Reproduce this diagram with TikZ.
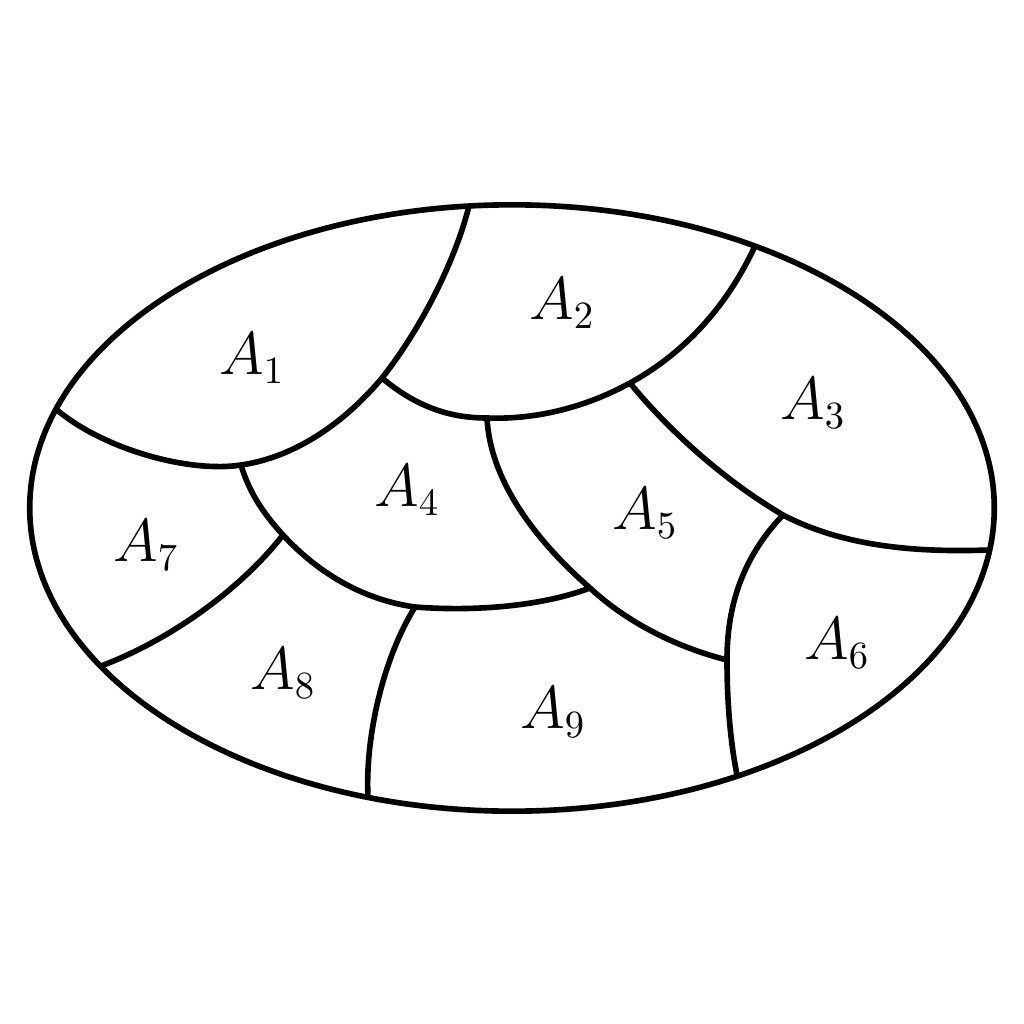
\documentclass[tikz,border=0pt]{standalone}
\usepackage{tikz}

\tikzset{
  border/.style={line width=1.6pt},
  region/.style={font=\fontsize{16}{19}\selectfont, anchor=center}
}

\begin{document}
\begin{tikzpicture}[x=0.01cm,y=-0.01cm]
\useasboundingbox (0,0) rectangle (1024,1024);
\begin{scope}
\path (512,508) coordinate (C);
\path (469,206) coordinate (E1);
\path (57,410) coordinate (E2);
\path (755,246) coordinate (E3);
\path (989,550) coordinate (E4);
\path (737,775) coordinate (E5);
\path (368,797) coordinate (E6);
\path (101,666) coordinate (E7);
\path (382,378) coordinate (Q1);
\path (241,465) coordinate (Q2);
\path (487,418) coordinate (Q3);
\path (630,383) coordinate (Q4);
\path (783,515) coordinate (Q5);
\path (283,535) coordinate (Q6);
\path (415,607) coordinate (Q7);
\path (590,588) coordinate (Q8);
\path (727,660) coordinate (Q9);

\draw [border] (E1) .. controls (455,262) and (420,330) .. (Q1)
  .. controls (340,428) and (290,458) .. (Q2)
  .. controls (190,473) and (105,450) .. (E2);
\draw [border] (Q1) .. controls (420,410) and (455,418) .. (Q3)
  .. controls (540,420) and (590,405) .. (Q4)
  .. controls (690,350) and (730,300) .. (E3);
\draw [border] (Q4) .. controls (660,420) and (715,475) .. (Q5)
  .. controls (850,550) and (930,552) .. (E4);
\draw [border] (Q2) .. controls (250,495) and (265,515) .. (Q6)
  .. controls (320,575) and (365,600) .. (Q7)
  .. controls (480,612) and (545,605) .. (Q8);
\draw [border] (Q3) .. controls (490,480) and (535,540) .. (Q8)
  .. controls (630,625) and (680,648) .. (Q9);
\draw [border] (Q5) .. controls (740,560) and (727,610) .. (Q9)
  .. controls (727,700) and (730,740) .. (E5);
\draw [border] (Q6) .. controls (240,590) and (170,640) .. (E7);
\draw [border] (Q7) .. controls (382,660) and (365,740) .. (E6);

\draw [border] (C) ellipse [x radius=4.82cm, y radius=3.03cm];

\node [region] (A1) at (252,358) {$A_1$};
\node [region] (A2) at (562,303) {$A_2$};
\node [region] (A3) at (813,403) {$A_3$};
\node [region] (A4) at (407,490) {$A_4$};
\node [region] (A5) at (645,513) {$A_5$};
\node [region] (A6) at (837,643) {$A_6$};
\node [region] (A7) at (146,545) {$A_7$};
\node [region] (A8) at (283,673) {$A_8$};
\node [region] (A9) at (553,712) {$A_9$};
\end{scope}

\end{tikzpicture}
\end{document}
